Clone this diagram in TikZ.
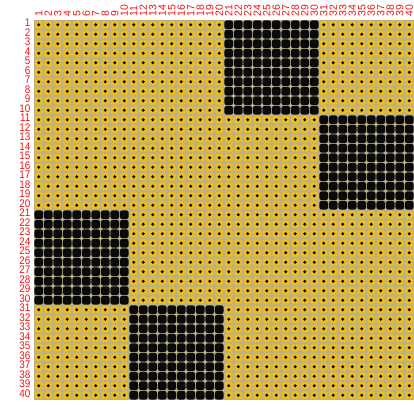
\documentclass[tikz,border=0pt]{standalone}
\usepackage{fontspec}
\setmainfont{Liberation Sans}
\definecolor{boardgray}{RGB}{186,176,140}
\definecolor{padyellow}{RGB}{234,190,34}
\definecolor{padblack}{RGB}{10,10,10}
\definecolor{labelred}{RGB}{240,20,20}

\begin{document}
\begin{tikzpicture}[
        x=9.5pt, y=9.5pt,
        pad/.style={fill=padyellow, rounded corners=1.5pt},
        blackpad/.style={fill=padblack, rounded corners=2pt},
        hole/.style={fill=black},
        rowlabel/.style={text=labelred, font=\fontsize{11}{11}\selectfont, anchor=base east, inner sep=0pt, xscale=0.9, transform shape},
        collabel/.style={text=labelred, font=\fontsize{10.5}{10.5}\selectfont, rotate=90, anchor=west, inner sep=0pt},
    ]
        \useasboundingbox (-3.579,2.105) rectangle (40,-40.421);
        % board
        \fill[boardgray] (0,0) rectangle (40,-40);
        \foreach \i in {1,...,40}
            \foreach \j in {1,...,40} {
                \fill[pad] (\j-1+0.08,-\i+1-0.08) rectangle ++(0.84,-0.84);
                \fill[hole] (\j-0.5,-\i+0.5) circle (0.17);
            }
        % black blocks
        \foreach \br/\bc in {0/2, 1/3, 2/0, 3/1} {
            \fill[boardgray] (\bc*10,-\br*10) rectangle ++(10,-10);
            \foreach \i in {1,...,10}
                \foreach \j in {1,...,10}
                    \fill[blackpad] (\bc*10+\j-1+0.05,-\br*10-\i+1-0.05) rectangle ++(0.9,-0.9);
        }
        % labels
        \foreach \i in {1,...,40}
            \node[rowlabel] (r\i) at (-0.35,-\i+0.3) {\i};
        \foreach \j in {1,...,40}
            \node[collabel] (c\j) at (\j-0.5,0.32) {\j};
    \end{tikzpicture}
\end{document}
